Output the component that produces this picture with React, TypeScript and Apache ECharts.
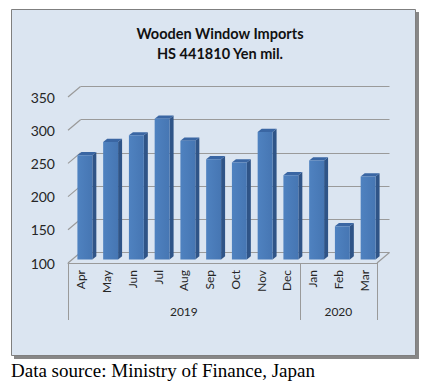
import React, { useEffect, useRef } from "react";
import * as echarts from "echarts";

const months = ["Apr", "May", "Jun", "Jul", "Aug", "Sep", "Oct", "Nov", "Dec", "Jan", "Feb", "Mar"];
const values = [257, 277, 287, 312, 279, 251, 246, 292, 227, 249, 150, 225];
const years = ["2019", "2020"];
const yearMonthCounts = [9, 3];
const yTicks = [100, 150, 200, 250, 300, 350];
const titleLines = ["Wooden Window Imports", "HS 441810 Yen mil."];
const sourceNote = "Data source: Ministry of Finance, Japan";

const FONT = "Lato, 'Open Sans', sans-serif";
const GRID_COLOR = "#9a9a9a";
const TEXT_COLOR = "#262626";

// front plane grid
const FRONT = { left: 68, top: 97, width: 309, height: 166 };
const BACK_SHIFT = [12.5, -10.5];
const BAR_SHIFT = [4, -3.5];

export default function App() {
  const ref = useRef<HTMLDivElement>(null);
  useEffect(() => {
    if (!ref.current) return;
    const chart = echarts.init(ref.current, null, { renderer: "svg" });
    const yMin = yTicks[0];
    const yMax = yTicks[yTicks.length - 1];
    const yInt = yTicks[1] - yTicks[0];
    const n = months.length;

    // year group boundaries and centers
    const bounds: number[] = [0];
    const centers: number[] = [];
    let acc = 0;
    yearMonthCounts.forEach((c) => {
      centers.push(acc + c / 2);
      acc += c;
      bounds.push(acc);
    });

    const backGrid = {
      left: FRONT.left + BACK_SHIFT[0],
      top: FRONT.top + BACK_SHIFT[1],
      width: FRONT.width,
      height: FRONT.height,
    };
    const barGrid = {
      left: FRONT.left + BAR_SHIFT[0],
      top: FRONT.top + BAR_SHIFT[1],
      width: FRONT.width,
      height: FRONT.height,
    };

    const option: any = {
      animation: false,
      title: {
        text: titleLines.join("\n"),
        left: 215,
        top: 18,
        textAlign: "center",
        textStyle: {
          fontFamily: FONT,
          fontWeight: "bold",
          fontSize: 14.5,
          lineHeight: 20,
          color: "#111",
        },
      },
      graphic: [
        {
          type: "rect",
          z: -10,
          shape: { x: 14, y: 12, width: 405, height: 347 },
          style: { fill: "#878787" },
          silent: true,
        },
        {
          type: "rect",
          z: -9,
          shape: { x: 11.5, y: 9.5, width: 404, height: 346 },
          style: { fill: "#dbe5f1", stroke: "#7f7f7f", lineWidth: 1 },
          silent: true,
        },
        {
          type: "text",
          x: 11,
          y: 370,
          style: {
            text: sourceNote,
            font: "19px 'Liberation Serif', 'Times New Roman', serif",
            fill: "#000",
            verticalAlign: "middle",
          },
        },
      ],
      grid: [
        { ...backGrid, containLabel: false },
        { ...FRONT, containLabel: false },
        { ...barGrid, containLabel: false },
      ],
      xAxis: [
        { gridIndex: 0, type: "value", min: 0, max: n, show: false },
        {
          gridIndex: 1,
          type: "category",
          data: months,
          position: "bottom",
          axisLine: { show: true, lineStyle: { color: GRID_COLOR, width: 1 } },
          axisTick: { show: false },
          axisLabel: {
            rotate: 90,
            margin: 7,
            interval: 0,
            fontFamily: FONT,
            fontSize: 12,
            color: TEXT_COLOR,
          },
        },
        {
          gridIndex: 1,
          type: "value",
          min: 0,
          max: n,
          position: "bottom",
          axisLine: { show: false },
          splitLine: { show: false },
          axisTick: {
            show: true,
            customValues: bounds,
            length: 57,
            lineStyle: { color: GRID_COLOR, width: 1 },
          },
          axisLabel: {
            customValues: centers,
            margin: 42,
            fontFamily: FONT,
            fontSize: 12,
            color: TEXT_COLOR,
            formatter: (v: number) => {
              const idx = centers.findIndex((c) => Math.abs(c - v) < 1e-6);
              return idx >= 0 ? years[idx] : "";
            },
          },
        },
        { gridIndex: 2, type: "category", data: months, show: false },
      ],
      yAxis: [
        {
          gridIndex: 0,
          type: "value",
          min: yMin,
          max: yMax,
          interval: yInt,
          axisLine: { show: false },
          axisTick: { show: false },
          axisLabel: { show: false },
          splitLine: { show: true, lineStyle: { color: GRID_COLOR, width: 1.2 } },
        },
        {
          gridIndex: 1,
          type: "value",
          min: yMin,
          max: yMax,
          interval: yInt,
          axisLine: { show: false },
          axisTick: { show: false },
          splitLine: { show: false },
          axisLabel: {
            margin: 13,
            fontFamily: FONT,
            fontSize: 14,
            color: TEXT_COLOR,
          },
        },
        {
          gridIndex: 2,
          type: "value",
          min: yMin,
          max: yMax,
          show: false,
          splitLine: { show: false },
        },
      ],
      series: [
        {
          type: "custom",
          xAxisIndex: 2,
          yAxisIndex: 1,
          z: 3,
          silent: true,
          data: yTicks.map((v) => [0, v]).concat([[n, yMin]]),
          renderItem: (params: any, api: any) => {
            const p = api.coord([api.value(0), api.value(1)]);
            return {
              type: "line",
              shape: { x1: p[0], y1: p[1], x2: p[0] + BACK_SHIFT[0], y2: p[1] + BACK_SHIFT[1] },
              style: { stroke: GRID_COLOR, lineWidth: 1.2 },
            };
          },
        },
        {
          type: "custom",
          xAxisIndex: 3,
          yAxisIndex: 2,
          z: 5,
          data: values.map((v, i) => [i, v]),
          encode: { x: 0, y: 1 },
          renderItem: (params: any, api: any) => {
            const idx = api.value(0);
            const v = api.value(1);
            const top = api.coord([idx, v]);
            const base = api.coord([idx, yMin]);
            const bw = api.size([1, 0])[0] * 0.58;
            const x0 = top[0] - bw / 2;
            const x1 = top[0] + bw / 2;
            const dx = 4;
            const dy = -3.2;
            return {
              type: "group",
              children: [
                {
                  type: "polygon",
                  shape: {
                    points: [
                      [x1, top[1]],
                      [x1 + dx, top[1] + dy],
                      [x1 + dx, base[1] + dy],
                      [x1, base[1]],
                    ],
                  },
                  style: { fill: "#2f5487" },
                },
                {
                  type: "polygon",
                  shape: {
                    points: [
                      [x0, top[1]],
                      [x0 + dx, top[1] + dy],
                      [x1 + dx, top[1] + dy],
                      [x1, top[1]],
                    ],
                  },
                  style: { fill: "#3a66a3" },
                },
                {
                  type: "rect",
                  shape: { x: x0, y: top[1], width: bw, height: base[1] - top[1] },
                  style: {
                    fill: new echarts.graphic.LinearGradient(0, 0, 1, 0, [
                      { offset: 0, color: "#4f82c0" },
                      { offset: 1, color: "#4676b3" },
                    ]),
                  },
                },
              ],
            };
          },
        },
      ],
    };
    chart.setOption(option);
    return () => chart.dispose();
  }, []);
  return (
    <div
      ref={ref}
      style={{ position: "absolute", left: 0, top: 0, width: 436, height: 387, background: "#fff" }}
    />
  );
}
